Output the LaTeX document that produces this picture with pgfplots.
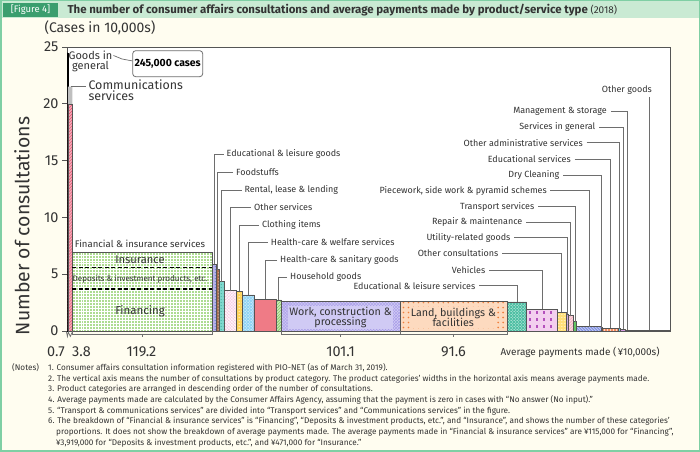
\documentclass[border=0pt]{standalone}
\usepackage{fontspec}
\setmainfont{Fira Sans}
\usepackage{pgfplots}
\pgfplotsset{compat=1.18}
\usetikzlibrary{patterns}
\definecolor{cBg}{HTML}{FFFDF0}
\definecolor{cBorder}{HTML}{7FCFA4}
\definecolor{cTitleBar}{HTML}{C9EAD3}
\definecolor{cFigBox}{HTML}{3A9E6E}
\definecolor{cText}{HTML}{333333}
\definecolor{cLead}{HTML}{6E6E6E}
\definecolor{cAxis}{HTML}{555555}
\definecolor{cComm}{HTML}{F5AAB8}\definecolor{cCommP}{HTML}{E2506E}
\definecolor{cFin}{HTML}{AEDC92}
\definecolor{cEduG}{HTML}{B7B2E8}\definecolor{cEduGP}{HTML}{3D5FD0}
\definecolor{cFood}{HTML}{A86A4E}\definecolor{cFoodP}{HTML}{F0C8A0}
\definecolor{cRent}{HTML}{7FD8CE}\definecolor{cRentP}{HTML}{2FA090}
\definecolor{cOSvc}{HTML}{F8CBE4}
\definecolor{cCloth}{HTML}{FFD45A}
\definecolor{cHCW}{HTML}{92D4F4}
\definecolor{cHCS}{HTML}{EF7B86}
\definecolor{cHouse}{HTML}{8FCE70}
\definecolor{cWork}{HTML}{D0CAF4}\definecolor{cWorkP}{HTML}{A89CE8}
\definecolor{cLand}{HTML}{FDDABF}\definecolor{cLandP}{HTML}{F07F3C}
\definecolor{cEduL}{HTML}{4FC0A4}
\definecolor{cVeh}{HTML}{F3CFEF}\definecolor{cVehP}{HTML}{B450BC}
\definecolor{cOCons}{HTML}{FFE07A}
\definecolor{cUtil}{HTML}{C7A5E0}
\definecolor{cRepair}{HTML}{F6B6C5}
\definecolor{cTrans}{HTML}{62C462}
\definecolor{cPiece}{HTML}{7F90E2}
\definecolor{cDry}{HTML}{A0A0A0}
\definecolor{cEduS}{HTML}{F28A5C}
\definecolor{cOAdm}{HTML}{70CCE6}
\definecolor{cSvcG}{HTML}{D69CE2}
\definecolor{cMgmt}{HTML}{FFE38F}
\definecolor{cOGoods}{HTML}{9A9A9A}
\pgfdeclarepatternformonly{sparsedots}{\pgfqpoint{-1pt}{-1pt}}{\pgfqpoint{1pt}{1pt}}{\pgfqpoint{5pt}{5pt}}{\pgfpathcircle{\pgfqpoint{0pt}{0pt}}{0.9pt}\pgfusepath{fill}}
\pgfdeclarepatternformonly{bigdots}{\pgfqpoint{-1.2pt}{-1.2pt}}{\pgfqpoint{1.2pt}{1.2pt}}{\pgfqpoint{7pt}{7pt}}{\pgfpathrectangle{\pgfqpoint{-1.1pt}{-1.1pt}}{\pgfqpoint{2.2pt}{2.2pt}}\pgfusepath{fill}}
\newcommand{\fs}[1]{\fontsize{#1}{#1}\selectfont}
\begin{document}
\begin{tikzpicture}[x=1bp,y=1bp,
  lead/.style={draw=cLead, line width=0.7bp},
  lab/.style={text=cText, font=\fs{9}, inner sep=0pt},
  note/.style={text=cText, font=\fs{8.25}, anchor=west, inner sep=0pt}]
\fill[cBg] (0,0) rectangle (700,452);
\draw[cBorder, line width=1.5bp] (0.75,0.75) rectangle (699.25,451.25);
\fill[cTitleBar] (1.5,433.5) rectangle (698.5,450.5);
\fill[cFigBox] (3,435) rectangle (58,449);
\node[text=white, font=\fs{9.5}] at (30.5,442) {[Figure 4]};
\node[anchor=west, text=cText, font=\fs{11.5}\bfseries] at (64,442) {The number of consumer affairs consultations and average payments made by product/service type~{\mdseries\fs{10}(2018)}};
\node[anchor=west, text=cText, font=\fs{14}] at (41,424) {(Cases in 10,000s)};
\node[rotate=90, text=cText, font=\fs{19.5}] at (22,226) {Number of consultations};
\begin{axis}[
  at={(67bp,121bp)}, anchor=south west,
  scale only axis, width=603bp, height=284bp,
  xmin=0, xmax=513.6, ymin=0, ymax=25,
  xtick=\empty, ytick={0,5,10,15,20,25},
  ytick pos=left, tick align=outside, major tick length=5bp,
  axis line style={draw=cAxis, line width=0.8bp},
  tick style={draw=cAxis, line width=0.8bp},
  yticklabel style={font=\fs{14.5}, text=cText},
  /pgf/number format/assume math mode=true,
  axis background/.style={fill=white},
  clip=false,
  bx/.style={draw=cAxis, line width=0.5bp},
]
% Goods in general
\addplot[draw=black, fill=black, line width=0.3bp] coordinates {(0,0) (0,24.5) (0.7,24.5) (0.7,0) (0,0)};
% Communications services
\addplot[bx, fill=cComm, postaction={pattern=north east lines, pattern color=cCommP}] coordinates {(0.7,0) (0.7,20) (4.5,20) (4.5,0) (0.7,0)};
\addplot[draw=none, fill=black!25] coordinates {(0.7,20) (0.7,21.5) (4.5,21.5) (4.5,20) (0.7,20)};
% Financial & insurance services
\addplot[bx, fill=cFin, postaction={pattern=grid, pattern color=white}] coordinates {(4.5,0) (4.5,6.9) (123.7,6.9) (123.7,0) (4.5,0)};
\addplot[black, line width=1.6bp, dash pattern=on 4bp off 2.5bp] coordinates {(4.5,5.6) (123.7,5.6)};
\addplot[black, line width=1.6bp, dash pattern=on 4bp off 2.5bp] coordinates {(4.5,3.7) (123.7,3.7)};
% Educational & leisure goods
\addplot[bx, fill=cEduG, postaction={pattern=dots, pattern color=cEduGP}] coordinates {(123.7,0) (123.7,5.85) (127.4,5.85) (127.4,0) (123.7,0)};
% Foodstuffs
\addplot[bx, fill=cFood, postaction={pattern=dots, pattern color=cFoodP}] coordinates {(127.4,0) (127.4,5.4) (129.4,5.4) (129.4,0) (127.4,0)};
% Rental, lease & lending
\addplot[bx, fill=cRent, postaction={pattern=dots, pattern color=cRentP}] coordinates {(129.4,0) (129.4,4.35) (133.8,4.35) (133.8,0) (129.4,0)};
% Other services
\addplot[bx, fill=cOSvc, postaction={pattern=crosshatch, pattern color=white}] coordinates {(133.8,0) (133.8,3.55) (144.4,3.55) (144.4,0) (133.8,0)};
% Clothing items
\addplot[bx, fill=cCloth, postaction={pattern=dots, pattern color=white}] coordinates {(144.4,0) (144.4,3.5) (149.5,3.5) (149.5,0) (144.4,0)};
% Health-care & welfare services
\addplot[bx, fill=cHCW, postaction={pattern=crosshatch dots, pattern color=white}] coordinates {(149.5,0) (149.5,3.17) (159.1,3.17) (159.1,0) (149.5,0)};
% Health-care & sanitary goods
\addplot[bx, fill=cHCS] coordinates {(159.1,0) (159.1,2.79) (178.1,2.79) (178.1,0) (159.1,0)};
% Household goods
\addplot[bx, fill=cHouse, postaction={pattern=north east lines, pattern color=white}] coordinates {(178.1,0) (178.1,2.73) (182.6,2.73) (182.6,0) (178.1,0)};
% Work, construction & processing
\addplot[bx, fill=cWork, postaction={pattern=crosshatch, pattern color=cWorkP}] coordinates {(182.6,0) (182.6,2.62) (283.7,2.62) (283.7,0) (182.6,0)};
% Land, buildings & facilities
\addplot[bx, fill=cLand, postaction={pattern=sparsedots, pattern color=cLandP}] coordinates {(283.7,0) (283.7,2.58) (375.3,2.58) (375.3,0) (283.7,0)};
% Educational & leisure services
\addplot[bx, fill=cEduL, postaction={pattern=crosshatch dots, pattern color=white}] coordinates {(375.3,0) (375.3,2.56) (391.4,2.56) (391.4,0) (375.3,0)};
% Vehicles
\addplot[bx, fill=cVeh, postaction={pattern=bigdots, pattern color=cVehP}] coordinates {(391.4,0) (391.4,1.91) (417.5,1.91) (417.5,0) (391.4,0)};
% Other consultations
\addplot[bx, fill=cOCons, postaction={pattern=dots, pattern color=white}] coordinates {(417.5,0) (417.5,1.67) (425.1,1.67) (425.1,0) (417.5,0)};
% Utility-related goods
\addplot[bx, fill=cUtil] coordinates {(425.1,0) (425.1,1.5) (426.5,1.5) (426.5,0) (425.1,0)};
% Repair & maintenance
\addplot[bx, fill=cRepair, postaction={pattern=north east lines, pattern color=white}] coordinates {(426.5,0) (426.5,1.35) (431.6,1.35) (431.6,0) (426.5,0)};
% Transport services
\addplot[bx, fill=cTrans] coordinates {(431.6,0) (431.6,0.82) (433.9,0.82) (433.9,0) (431.6,0)};
% Piecework, side work & pyramid schemes
\addplot[bx, fill=cPiece, postaction={pattern=north west lines, pattern color=white}] coordinates {(433.9,0) (433.9,0.38) (455.1,0.38) (455.1,0) (433.9,0)};
% Dry Cleaning
\addplot[bx, fill=cDry] coordinates {(455.1,0) (455.1,0.3) (455.9,0.3) (455.9,0) (455.1,0)};
% Educational services
\addplot[bx, fill=cEduS, postaction={pattern=vertical lines, pattern color=white}] coordinates {(455.9,0) (455.9,0.24) (469.5,0.24) (469.5,0) (455.9,0)};
% Other administrative services
\addplot[bx, fill=cOAdm] coordinates {(469.5,0) (469.5,0.2) (471.6,0.2) (471.6,0) (469.5,0)};
% Services in general
\addplot[bx, fill=cSvcG] coordinates {(471.6,0) (471.6,0.15) (475.4,0.15) (475.4,0) (471.6,0)};
% Management & storage
\addplot[bx, fill=cMgmt] coordinates {(475.4,0) (475.4,0.1) (478.8,0.1) (478.8,0) (475.4,0)};
% Other goods
\addplot[bx, fill=cOGoods] coordinates {(478.8,0) (478.8,0.05) (513.6,0.05) (513.6,0) (478.8,0)};
\end{axis}
% brackets under the x axis
\draw[lead] (66.5,120)--(67.4,115.5)--(68.3,120)--(70.3,115.5)--(72.3,120);
\draw[lead] (72.3,121)--(72.3,118)--(212.2,118)--(212.2,121) (142.2,118)--(142.2,114.5);
\draw[lead] (281.4,121)--(281.4,118)--(400.1,118)--(400.1,121) (340.7,118)--(340.7,114.5);
\draw[lead] (400.6,121)--(400.6,118)--(507.6,118)--(507.6,121) (453.8,118)--(453.8,114.5);
\node[text=cText, font=\fs{14.5}] at (56,100) {0.7};
\node[text=cText, font=\fs{14.5}] at (81.5,100) {3.8};
\node[text=cText, font=\fs{14.5}] at (141.5,100) {119.2};
\node[text=cText, font=\fs{14.5}] at (340.5,100) {101.1};
\node[text=cText, font=\fs{14.5}] at (453.5,100) {91.6};
\node[anchor=west, text=cText, font=\fs{10}] at (497,100) {Average payments made (\,¥10,000s)};
% goods in general / communications
\node[text=cText, font=\fs{11}, align=center, inner sep=0pt] at (90.5,390.5) {Goods in\\[-1.5bp]general};
\draw[lead] (113.5,396.5)--(122,393)--(132.7,391);
\draw[draw=cLead, line width=0.8bp, fill=white, rounded corners=3bp] (132.7,375.3) rectangle (202.7,401.3);
\node[text=black, font=\fs{10.5}\bfseries] at (167.7,388.3) {245,000 cases};
\draw[lead] (71,365.3)--(86,365.3);
\node[anchor=north west, text=cText, font=\fs{12.5}, align=left, inner sep=0pt] at (88.3,372) {Communications\\[-1.5bp]services};
% financial labels
\node[lab, font=\fs{9.6}] at (140,208.5) {Financial \& insurance services};
\node[lab, font=\fs{11.2}] at (140,192) {Insurance};
\node[lab, font=\fs{8.1}] at (140,172.5) {Deposits \& investment products, etc.};
\node[lab, font=\fs{11.5}] at (140,141) {Financing};
\node[lab, font=\fs{10.8}, fill=cWork, align=center, inner sep=1bp] at (340.5,134.5) {Work, construction \&\\[-0.5bp]processing};
\node[lab, font=\fs{10.8}, fill=cLand, align=center, inner sep=1bp] at (453.3,134.5) {Land, buildings \&\\[-0.5bp]facilities};
% left-side leaders
\draw[lead] (223.5,297.7)--(214.4,297.7)--(214.4,187.5);
\node[lab, anchor=west] at (226.5,297.7) {Educational \& leisure goods};
\draw[lead] (233,279.7)--(217.8,279.7)--(217.8,182.3);
\node[lab, anchor=west] at (236,279.7) {Foodstuffs};
\draw[lead] (241.5,262)--(221.5,262)--(221.5,170.4);
\node[lab, anchor=west] at (244.3,262) {Rental, lease \& lending};
\draw[lead] (251,244.7)--(230.3,244.7)--(230.3,161.3);
\node[lab, anchor=west] at (254,244.7) {Other services};
\draw[lead] (258.5,227)--(239.5,227)--(239.5,160.8);
\node[lab, anchor=west] at (262,227) {Clothing items};
\draw[lead] (267.5,209.7)--(248.2,209.7)--(248.2,157);
\node[lab, anchor=west] at (270.7,209.7) {Health-care \& welfare services};
\draw[lead] (277,192)--(265,192)--(265,152.7);
\node[lab, anchor=west] at (280,192) {Health-care \& sanitary goods};
\draw[lead] (287,174.7)--(278.7,174.7)--(278.7,152);
\node[lab, anchor=west] at (290,174.7) {Household goods};
% right-side leaders
\draw[lead] (479,166.3)--(517.1,166.3)--(517.1,150.1);
\node[lab, anchor=east] at (475.5,166.3) {Educational \& leisure services};
\draw[lead] (489,182)--(541.9,182)--(541.9,142.7);
\node[lab, anchor=east] at (485.5,182) {Vehicles};
\draw[lead] (502,198.7)--(561.7,198.7)--(561.7,140);
\node[lab, anchor=east] at (498.5,198.7) {Other consultations};
\draw[lead] (514,214.3)--(567,214.3)--(567,138);
\node[lab, anchor=east] at (510.5,214.3) {Utility-related goods};
\draw[lead] (526,229.7)--(570.8,229.7)--(570.8,136.3);
\node[lab, anchor=east] at (522.5,229.7) {Repair \& maintenance};
\draw[lead] (538,245.3)--(575.1,245.3)--(575.1,130.3);
\node[lab, anchor=east] at (534.5,245.3) {Transport services};
\draw[lead] (550,261.3)--(588.9,261.3)--(588.9,125.3);
\node[lab, anchor=east] at (547,261.3) {Piecework, side work \& pyramid schemes};
\draw[lead] (563,277)--(601.8,277)--(601.8,124.4);
\node[lab, anchor=east] at (559.5,277) {Dry Cleaning};
\draw[lead] (574.5,293)--(610.3,293)--(610.3,123.7);
\node[lab, anchor=east] at (571,293) {Educational services};
\draw[lead] (586.5,309.3)--(619.5,309.3)--(619.5,123.3);
\node[lab, anchor=east] at (583,309.3) {Other administrative services};
\draw[lead] (599,324.7)--(623,324.7)--(623,122.7);
\node[lab, anchor=east] at (595.5,324.7) {Services in general};
\draw[lead] (611,340.3)--(627.2,340.3)--(627.2,122.1);
\node[lab, anchor=east] at (607,340.3) {Management \& storage};
\draw[lead] (649.6,355)--(649.6,121.6);
\node[lab, anchor=east] at (652,362) {Other goods};
% notes
\node[note] at (12,84) {(Notes)};
\node[note] at (48,84) {1. Consumer affairs consultation information registered with PIO-NET (as of March 31, 2019).};
\node[note] at (48,73.3) {2. The vertical axis means the number of consultations by product category. The product categories’ widths in the horizontal axis means average payments made.};
\node[note] at (48,62.6) {3. Product categories are arranged in descending order of the number of consultations.};
\node[note] at (48,51.9) {4. Average payments made are calculated by the Consumer Affairs Agency, assuming that the payment is zero in cases with “No answer (No input).”};
\node[note] at (48,41.2) {5. “Transport \& communications services” are divided into “Transport services” and “Communications services” in the figure.};
\node[note] at (48,30.5) {6. The breakdown of “Financial \& insurance services” is “Financing”, “Deposits \& investment products, etc.”, and “Insurance”, and shows the number of these categories’};
\node[note] at (56,19.8) {proportions. It does not show the breakdown of average payments made. The average payments made in “Financial \& insurance services” are ¥115,000 for “Financing”,};
\node[note] at (56,9.1) {¥3,919,000 for “Deposits \& investment products, etc.”, and ¥471,000 for “Insurance.”};
\end{tikzpicture}
\end{document}
